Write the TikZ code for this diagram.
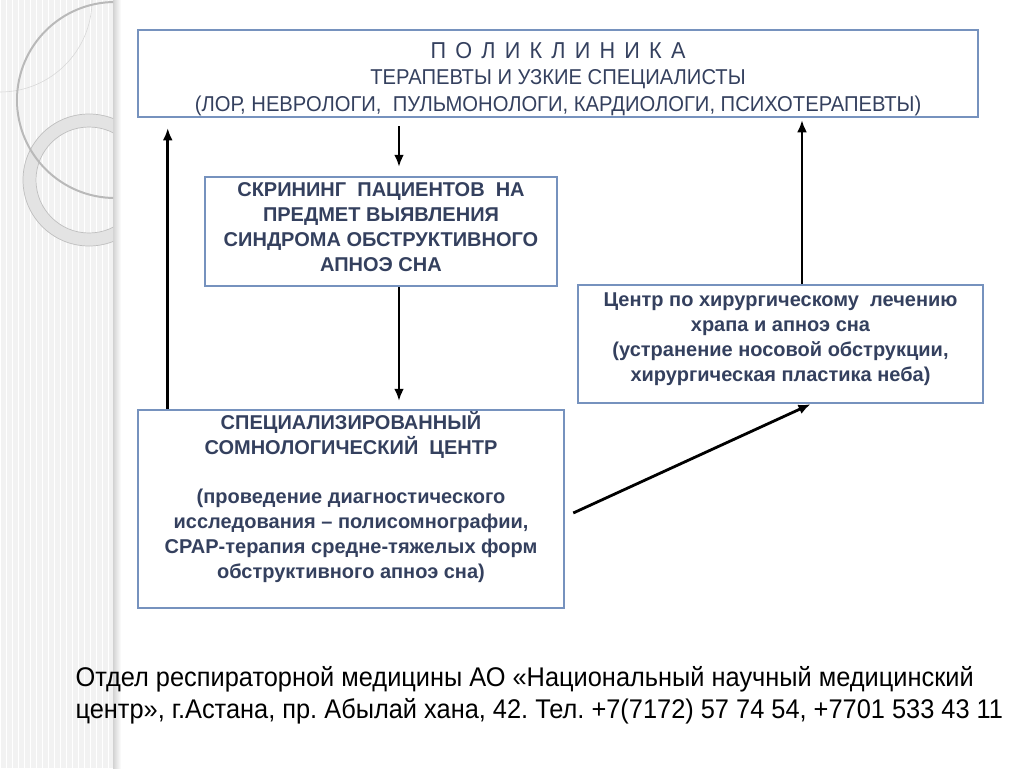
\documentclass[tikz,border=0pt]{standalone}
\usepackage{fontspec}
\setmainfont{Liberation Sans}
\newfontfamily\narrowfont[FakeStretch=0.94]{Liberation Sans}
\usepackage{xcolor}
\usepackage{tikz}
\usetikzlibrary{arrows.meta}
\frenchspacing

\definecolor{boxline}{RGB}{118,146,190}
\definecolor{boxtext}{RGB}{52,64,94}
\tikzset{
  box/.style={draw=boxline, line width=2.5pt, align=center, text=boxtext, inner sep=0pt},
  boldtext/.style={font=\bfseries\fontsize{20}{25}\selectfont},
  arr/.style={line width=2.8pt, -{Latex[length=12pt,width=10pt]}},
}

\begin{document}
\begin{tikzpicture}[x=1pt,y=-1pt]
\useasboundingbox (0,0) rectangle (1024,768);
% left strip of the slide
\fill[gray!10] (0,0) rectangle (113,768);
\draw[white, line width=0.8pt, step=6] (0,0) grid (113,768);
\shade[left color=gray!35, right color=white] (113,0) rectangle (121,768);
\begin{scope}
\clip (0,0) rectangle (113,768);
\draw[gray!30, line width=0.6pt] (0,0) circle (92);
\fill[gray!22, even odd rule] (89,180) circle (66) (89,180) circle (53);
\draw[gray!50, line width=0.7pt] (89,180) circle (66) (89,180) circle (53);
\draw[gray!55, line width=2pt] (115,100) circle (98);
\end{scope}

\node (1) at (558,73.5) [box, minimum width=840, minimum height=87, font=\narrowfont\fontsize{21.5}{26.5}\selectfont] {{\fontsize{23}{26.5}\selectfont\addfontfeature{LetterSpace=14}\rule{0pt}{27pt}П О Л И К Л И Н И К А}\\ТЕРАПЕВТЫ И УЗКИЕ СПЕЦИАЛИСТЫ\\(ЛОР, НЕВРОЛОГИ,\ \ ПУЛЬМОНОЛОГИ, КАРДИОЛОГИ, ПСИХОТЕРАПЕВТЫ)};
\node (2) at (381,231.5) [box, boldtext, minimum width=352, minimum height=109] {СКРИНИНГ\ \ ПАЦИЕНТОВ\ \ НА\\ПРЕДМЕТ ВЫЯВЛЕНИЯ\\СИНДРОМА ОБСТРУКТИВНОГО\\АПНОЭ СНА\rule[-9pt]{0pt}{1pt}};
\node (3) at (780.5,344) [box, boldtext, minimum width=405, minimum height=118] {Центр по хирургическому\ \ лечению\\храпа и апноэ сна\\(устранение носовой обструкции,\\хирургическая пластика неба)\rule[-13pt]{0pt}{1pt}};
\node (4) at (351,509) [box, boldtext, minimum width=426, minimum height=198] {СПЕЦИАЛИЗИРОВАННЫЙ\\СОМНОЛОГИЧЕСКИЙ\ \ ЦЕНТР\\[24pt](проведение диагностического\\исследования -- полисомнографии,\\CPAP-терапия средне-тяжелых форм\\обструктивного апноэ сна)\rule[-28pt]{0pt}{1pt}};
\node (5) at (72,695) [anchor=west, align=left, font=\narrowfont\fontsize{27}{32}\selectfont] {Отдел респираторной медицины АО «Национальный научный медицинский\\центр», г.Астана, пр. Абылай хана, 42. Тел. +7(7172) 57 74 54, +7701 533 43 11};

\coordinate (a) at ([xshift=18]2.north);
\coordinate (b) at ([xshift=31]4.north west);
\coordinate (c) at ([xshift=21.5]3.north);
\draw[arr, shorten <=8pt, shorten >=9pt] (a |- 1.south) -- (a);
\draw[arr, shorten >=8pt] (2.south -| a) -- (4.north -| a);
\draw[arr, shorten >=10pt] (b) -- (b |- 1.south);
\draw[arr, shorten >=2pt] (c) -- (c |- 1.south);
\draw[arr] ([xshift=8,yshift=-4]4.east) -- ([xshift=30]3.south);
\end{tikzpicture}
\end{document}
